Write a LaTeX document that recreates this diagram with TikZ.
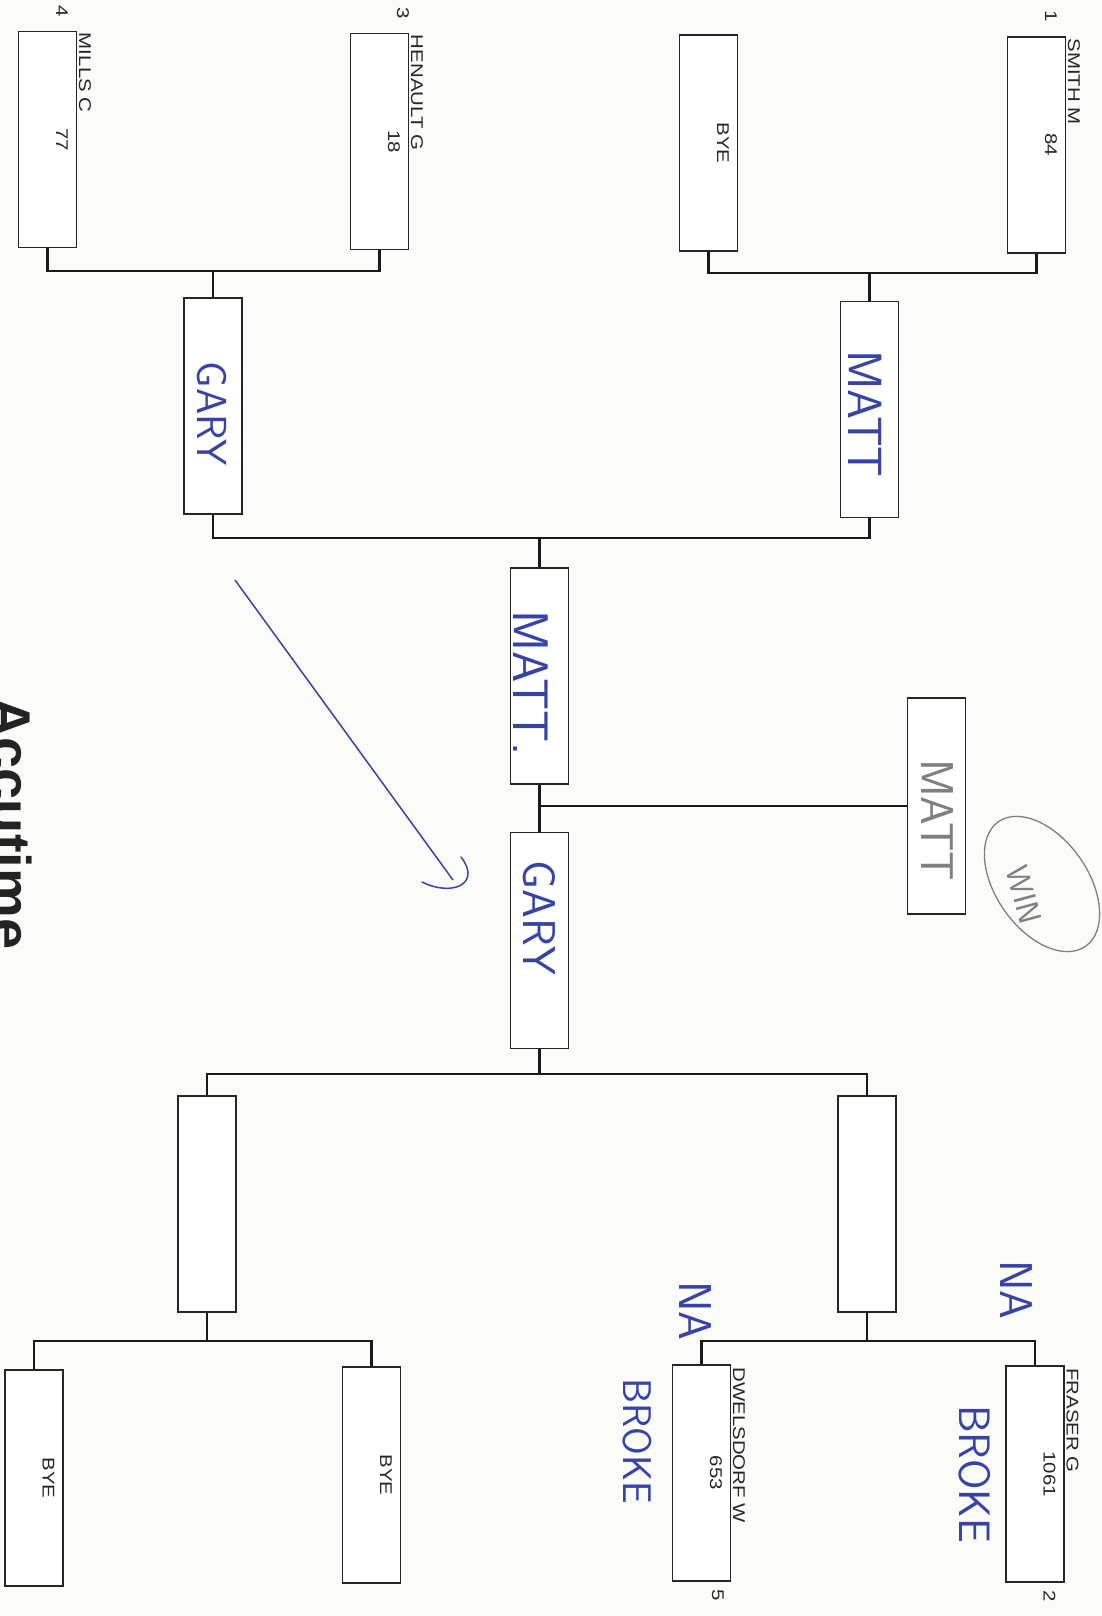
\documentclass[tikz,border=0pt]{standalone}
\usepackage{fontspec}
\setmainfont{Liberation Sans}
\newfontfamily\printfont[FakeStretch=1.2]{Liberation Sans}
\usetikzlibrary{calc}
\definecolor{ink}{RGB}{55,68,165}
\definecolor{pencil}{RGB}{128,128,128}
\definecolor{paper}{RGB}{251,251,250}
\definecolor{logo}{RGB}{35,35,35}
\begin{document}
\begin{tikzpicture}[x=1pt,y=-1pt,
  box/.style={draw=black!85, line width=1.4pt, rotate=-90, minimum width=216pt,
              minimum height=58pt, inner sep=0pt, fill=white},
  conn/.style={draw=black!90, line width=2.6pt, line join=miter},
  lbl/.style={rotate=-90, inner sep=0pt, text=black!85,
              font=\printfont\fontsize{17pt}{17pt}\selectfont},
  handw/.style={rotate=-90, inner sep=0pt, text=ink,
              font=\sffamily\fontsize{#1}{#1}\selectfont},
  pencilw/.style={rotate=-90, inner sep=0pt, text=pencil,
              font=\sffamily\fontsize{#1}{#1}\selectfont}]
\useasboundingbox (0,0) rectangle (1102,1616);
\fill[paper] (0,0) rectangle (1102,1616);
\begin{scope}
\clip (0,0) rectangle (1102,1616);
\node[rotate=-90, anchor=base west, inner sep=0pt, text=logo,
      font=\bfseries\fontsize{56pt}{56pt}\selectfont] (logo) at (-9,697) {Accutime};
\end{scope}

% ---- boxes ----
\node[box] (smith)   at (1036.5,145) {};
\node[box] (bye1)    at (708.5,143) {};
\node[box] (henault) at (379.5,141.5) {};
\node[box] (mills)   at (47.5,139.5) {};
\node[box] (r2a)     at (869.5,409.5) {};
\node[box] (r2b)     at (213,406) {};
\node[box] (sfa)     at (539.5,676) {};
\node[box] (sfb)     at (539.5,940.5) {};
\node[box] (win)     at (936.5,806) {};
\node[box] (r2c)     at (867,1204) {};
\node[box] (r2d)     at (207,1204) {};
\node[box] (fraser)  at (1035,1474) {};
\node[box] (dwels)   at (701.5,1473) {};
\node[box] (bye3)    at (371.5,1475) {};
\node[box] (bye4)    at (34,1478) {};

% ---- connectors ----
\coordinate (jt1) at (r2a.west |- 0,273);
\coordinate (jt2) at (r2b.west |- 0,271);
\coordinate (js1) at (sfa.west |- 0,538);
\coordinate (js2) at (sfb.east |- 0,1074);
\coordinate (jb1) at (r2c.east |- 0,1341);
\coordinate (jb2) at (r2d.east |- 0,1341);
\draw[conn] (smith.east) -- (smith.east |- jt1) -- (bye1.east |- jt1) -- (bye1.east);
\draw[conn] (jt1) -- (r2a.west);
\draw[conn] (henault.east) -- (henault.east |- jt2) -- (mills.east |- jt2) -- (mills.east);
\draw[conn] (jt2) -- (r2b.west);
\draw[conn] (r2a.east) -- (r2a.east |- js1) -- (r2b.east |- js1) -- (r2b.east);
\draw[conn] (js1) -- (sfa.west);
\draw[conn] (sfa.east) -- (sfb.west);
\draw[conn] (sfa.east |- win.south) -- (win.south);
\draw[conn] (sfb.east) -- (js2);
\draw[conn] (r2c.west) -- (r2c.west |- js2) -- (r2d.west |- js2) -- (r2d.west);
\draw[conn] (r2c.east) -- (jb1);
\draw[conn] (fraser.west) -- (fraser.west |- jb1) -- (dwels.west |- jb1) -- (dwels.west);
\draw[conn] (r2d.east) -- (jb2);
\draw[conn] (bye3.west) -- (bye3.west |- jb2) -- (bye4.west |- jb2) -- (bye4.west);

% ---- printed labels ----
\node[lbl, anchor=base west] at ($(smith.north west)+(2,2)$) {SMITH M};
\node[lbl, anchor=base] at ($(smith.north)+(-21,0)$) {84};
\node[lbl, anchor=base east] at ($(smith.north west)+(-21,-14)$) {1};
\node[lbl, anchor=base] at ($(bye1.north)+(-21,0)$) {BYE};
\node[lbl, anchor=base west] at ($(henault.north west)+(2,2)$) {HENAULT G};
\node[lbl, anchor=base] at ($(henault.north)+(-21,0)$) {18};
\node[lbl, anchor=base east] at ($(henault.north west)+(-12,-14)$) {3};
\node[lbl, anchor=base west] at ($(mills.north west)+(2,2)$) {MILLS C};
\node[lbl, anchor=base] at ($(mills.north)+(-21,0)$) {77};
\node[lbl, anchor=base east] at ($(mills.north west)+(-21,-14)$) {4};
\node[lbl, anchor=base west] at ($(fraser.north west)+(2,3)$) {FRASER G};
\node[lbl, anchor=base] at ($(fraser.north)+(-21,0)$) {1061};
\node[lbl, anchor=base west] at ($(fraser.north east)+(-21,8)$) {2};
\node[lbl, anchor=base west] at ($(dwels.north west)+(2,3)$) {DWELSDORF W};
\node[lbl, anchor=base] at ($(dwels.north)+(-21,0)$) {653};
\node[lbl, anchor=base west] at ($(dwels.north east)+(-19,8)$) {5};
\node[lbl, anchor=base] at ($(bye3.north)+(-21,0)$) {BYE};
\node[lbl, anchor=base] at ($(bye4.north)+(-21,0)$) {BYE};

% ---- handwriting ----
\node[handw=48pt] at (865,414) {MATT};
\node[handw=42pt] at (212,414) {GARY};
\node[handw=50pt] at (531,683) {MATT.};
\node[handw=46pt] at (539,918) {GARY};
\node[pencilw=46pt] at (937,820) {MATT};
\node[pencilw=32pt, rotate=15] at (1024,895) {WIN};
\draw[pencil, line width=1.3pt, rotate around={-55:(1042,884)}]
  (1042,884) ellipse [x radius=76pt, y radius=46pt];
\node[handw=46pt] at (1016,1290) {NA};
\node[handw=44pt] at (975,1474) {BROKE};
\node[handw=46pt] at (695,1311) {NA};
\node[handw=40pt] at (637,1441) {BROKE};
\draw[ink, line width=1.5pt] (235,580) -- (453,880);
\draw[ink, line width=1.5pt, line cap=round] (422,882) .. controls (452,897) and (482,884) .. (461,857);
\end{tikzpicture}
\end{document}
